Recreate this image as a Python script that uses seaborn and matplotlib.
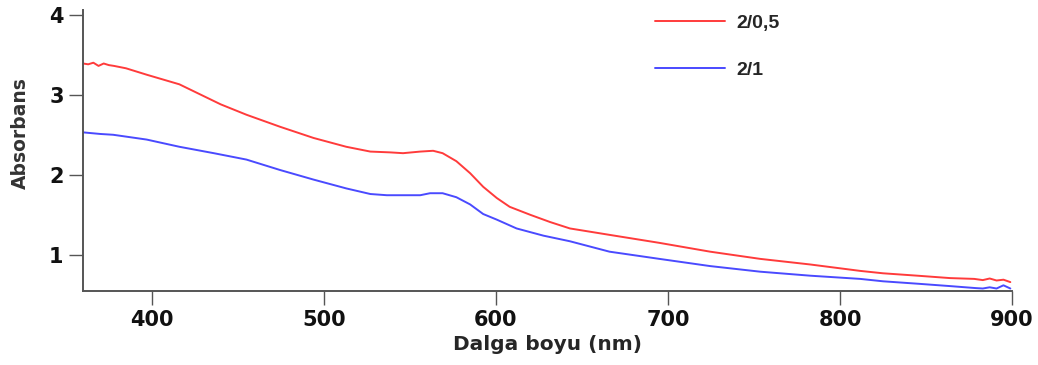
import pandas as pd
import matplotlib
matplotlib.use('Agg')
import matplotlib.pyplot as plt
import seaborn as sns

# dalga boyu (nm) / absorbans okumalari
dalga_kirmizi = [360, 363, 366, 369, 372, 375, 378, 385, 397, 416, 440, 455, 474.5, 494, 513,
                 527, 538.5, 546, 556, 563.5, 569, 577, 585, 592.6, 600.5, 608, 620, 631.5, 643,
                 666, 695, 724.5, 753.6, 782.7, 811.7, 825, 845, 864, 878, 883, 887, 891, 895, 899]
abs_kirmizi = [3.39, 3.38, 3.40, 3.36, 3.39, 3.37, 3.36, 3.33, 3.25, 3.13, 2.88, 2.75, 2.60, 2.46, 2.35,
               2.29, 2.28, 2.27, 2.29, 2.30, 2.27, 2.17, 2.02, 1.85, 1.71, 1.60, 1.50, 1.41, 1.33,
               1.25, 1.15, 1.04, 0.95, 0.88, 0.80, 0.77, 0.74, 0.71, 0.70, 0.685, 0.705, 0.68, 0.69, 0.66]

dalga_mavi = [360, 365, 370, 377.5, 397, 416, 436, 455, 474.5, 494, 513, 527, 536.6, 556, 561.7,
              569, 577, 585, 592.6, 600.5, 612, 627.6, 643, 666, 695, 724.5, 753.6, 782.7, 811.7,
              825, 845, 864, 879, 883, 887, 891, 895, 899]
abs_mavi = [2.53, 2.52, 2.51, 2.50, 2.44, 2.35, 2.27, 2.19, 2.06, 1.94, 1.83, 1.76, 1.745, 1.745, 1.77,
            1.77, 1.72, 1.63, 1.51, 1.44, 1.33, 1.24, 1.17, 1.04, 0.95, 0.86, 0.79, 0.74, 0.70,
            0.67, 0.64, 0.61, 0.585, 0.58, 0.595, 0.58, 0.62, 0.58]

etiketler = ['2/0,5', '2/1']
renkler = ['#ff3b3b', '#4a4aff']

dados = pd.concat([
    pd.DataFrame({'dalga': dalga_kirmizi, 'abs': abs_kirmizi, 'seri': etiketler[0]}),
    pd.DataFrame({'dalga': dalga_mavi, 'abs': abs_mavi, 'seri': etiketler[1]}),
])

sns.set_style('ticks')
plt.rcParams['font.family'] = ['DejaVu Sans']

fig = plt.figure(figsize=(10.38, 3.65), dpi=100)
ax = fig.add_axes([0.080, 0.203, 0.895, 0.770])

sns.lineplot(data=dados, x='dalga', y='abs', hue='seri', palette=renkler,
             linewidth=1.4, sort=False, estimator=None, ax=ax)

ax.set_xlim(360, 900)
ax.set_ylim(0.55, 4.06)
ax.set_xticks([400, 500, 600, 700, 800, 900])
ax.set_yticks([1, 2, 3, 4])

for s in ['top', 'right']:
    ax.spines[s].set_visible(False)
for s in ['left', 'bottom']:
    ax.spines[s].set_color('#555555')
    ax.spines[s].set_linewidth(1.4)
ax.tick_params(direction='out', length=10, width=1, color='#555555',
               labelsize=15, pad=4)
for lab in ax.get_xticklabels() + ax.get_yticklabels():
    lab.set_fontweight('bold')
    lab.set_color('#111111')

ax.set_xlabel('Dalga boyu (nm)', fontsize=14.5, fontweight='bold', labelpad=3)
ax.set_ylabel('Absorbans', fontsize=13.5, fontweight='bold', color='#333333')
ax.yaxis.set_label_coords(-0.057, 0.56)

ax.legend(title=None, frameon=False, loc='upper left', bbox_to_anchor=(0.616, 0.983),
          borderaxespad=0, borderpad=0, handlelength=3.6, handletextpad=0.55,
          labelspacing=1.5, prop={'family': 'Liberation Sans', 'weight': 'bold', 'size': 14})

fig.savefig('out.png', dpi=100)
